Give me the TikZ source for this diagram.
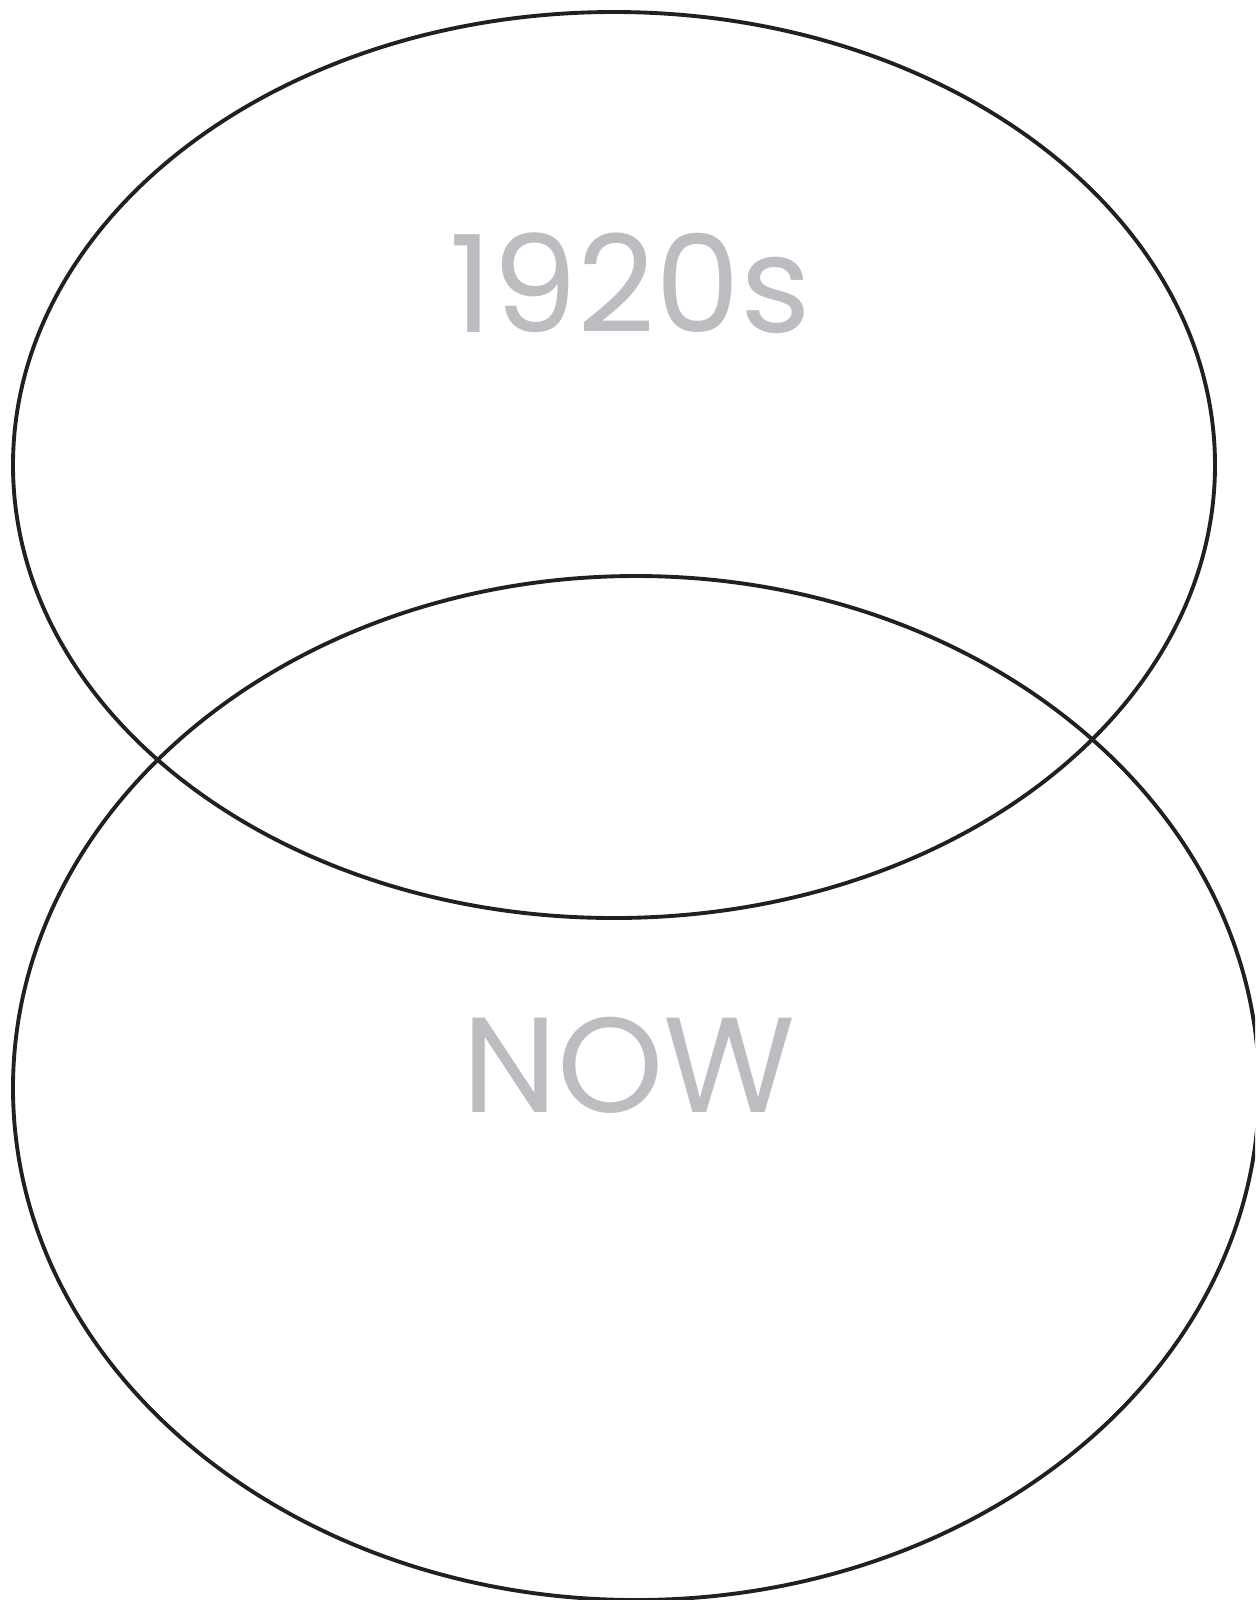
\documentclass[tikz,border=0pt]{standalone}
\usepackage{fontspec}
\setmainfont{Poppins}
\usepackage{tikz}

\definecolor{ringline}{HTML}{231F20}
\definecolor{eragrey}{HTML}{BCBDC1}

\begin{document}
\begin{tikzpicture}[x=0.02cm, y=-0.02cm,
                    ring/.style={draw=ringline, line width=2.2pt},
                    era/.style={anchor=base, text=eragrey, inner sep=0pt,
                                font=\fontsize{77}{92}\selectfont}]

    \clip (0,0) rectangle (1255,1600);

    % the two overlapping rings
    \draw[ring] (614,465)  ellipse [x radius=601, y radius=453];
    \draw[ring] (636,1088) ellipse [x radius=623, y radius=512];

    \node[era] (then) at (630,332)  {1920s};
    \node[era] (now)  at (629,1112) {NOW};
\end{tikzpicture}
\end{document}
